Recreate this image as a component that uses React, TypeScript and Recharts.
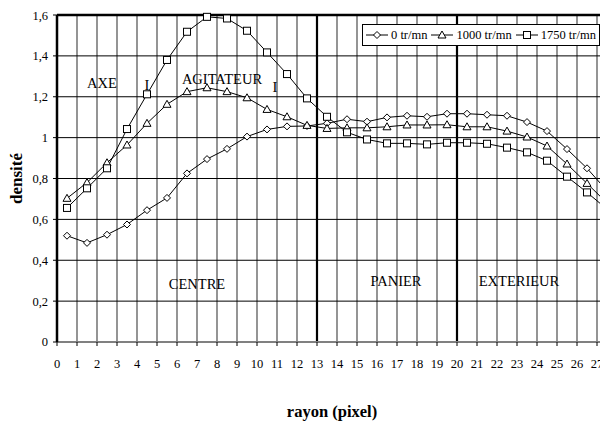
import React from "react";
import {
  LineChart,
  Line,
  XAxis,
  YAxis,
  CartesianGrid,
  ReferenceLine,
  ReferenceDot,
  Legend,
} from "recharts";

const radius = [
  0.5, 1.5, 2.5, 3.5, 4.5, 5.5, 6.5, 7.5, 8.5, 9.5, 10.5, 11.5, 12.5, 13.5,
  14.5, 15.5, 16.5, 17.5, 18.5, 19.5, 20.5, 21.5, 22.5, 23.5, 24.5, 25.5, 26.5, 27.5,
];
const rpm0 = [
  0.52, 0.485, 0.525, 0.575, 0.645, 0.705, 0.825, 0.895, 0.945, 1.005, 1.04, 1.055, 1.057, 1.07,
  1.09, 1.078, 1.099, 1.107, 1.102, 1.117, 1.117, 1.112, 1.107, 1.076, 1.032, 0.944, 0.85, 0.74,
];
const rpm1000 = [
  0.703, 0.78, 0.877, 0.964, 1.07, 1.163, 1.225, 1.244, 1.225, 1.195, 1.138, 1.102, 1.06, 1.045,
  1.048, 1.048, 1.053, 1.062, 1.062, 1.063, 1.053, 1.053, 1.032, 1.003, 0.959, 0.871, 0.776, 0.68,
];
const rpm1750 = [
  0.656, 0.752, 0.85, 1.042, 1.212, 1.38, 1.518, 1.591, 1.583, 1.523, 1.417, 1.311, 1.192, 1.102,
  1.026, 0.991, 0.972, 0.972, 0.967, 0.975, 0.975, 0.97, 0.951, 0.928, 0.887, 0.809, 0.732, 0.65,
];
const seriesNames = ["0 tr/mn", "1000 tr/mn", "1750 tr/mn"];
const xTicks = Array.from({ length: 29 }, (_, i) => i);
const yTicks = [0, 0.2, 0.4, 0.6, 0.8, 1, 1.2, 1.4, 1.6];
const zoneBounds = [13, 20];

const zoneLabels = [
  { text: "AXE", x: 2.25, y: 1.267 },
  { text: "I", x: 4.5, y: 1.26 },
  { text: "AGITATEUR", x: 8.25, y: 1.287 },
  { text: "I", x: 10.9, y: 1.25 },
  { text: "CENTRE", x: 7.0, y: 0.284 },
  { text: "PANIER", x: 16.95, y: 0.298 },
  { text: "EXTERIEUR", x: 23.1, y: 0.298 },
];

const rows = radius.map((r, i) => ({
  r,
  s0: rpm0[i],
  s1: rpm1000[i],
  s2: rpm1750[i],
}));

const FONT = "Liberation Serif, Times New Roman, serif";

type Shape = "diamond" | "triangle" | "square";

function marker(shape: Shape, cx: number, cy: number, key?: string) {
  if (shape === "diamond") {
    return (
      <path
        key={key}
        d={`M${cx},${cy - 3.5}L${cx + 3.5},${cy}L${cx},${cy + 3.5}L${cx - 3.5},${cy}Z`}
        fill="#fff"
        stroke="#000"
        strokeWidth={1}
      />
    );
  }
  if (shape === "triangle") {
    return (
      <path
        key={key}
        d={`M${cx},${cy - 4}L${cx + 4},${cy + 3}L${cx - 4},${cy + 3}Z`}
        fill="#fff"
        stroke="#000"
        strokeWidth={1}
      />
    );
  }
  return (
    <rect
      key={key}
      x={cx - 3.5}
      y={cy - 3.5}
      width={7}
      height={7}
      fill="#fff"
      stroke="#000"
      strokeWidth={1}
    />
  );
}

const dotOf = (shape: Shape) => (props: any) => {
  const { cx, cy, index } = props;
  if (cx == null || cy == null) return <g key={`${shape}-${index}`} />;
  return marker(shape, cx, cy, `${shape}-${index}`);
};

const shapes: Shape[] = ["diamond", "triangle", "square"];

function LegendBox() {
  return (
    <div
      style={{
        display: "flex",
        alignItems: "center",
        border: "1px solid #000",
        background: "#fff",
        padding: "1px 3px",
        height: 18,
        fontFamily: FONT,
        fontSize: 12.5,
        color: "#000",
        whiteSpace: "nowrap",
      }}
    >
      {seriesNames.map((name, i) => (
        <span key={name} style={{ display: "flex", alignItems: "center", marginRight: i < 2 ? 4 : 0 }}>
          <svg width={22} height={12} style={{ marginRight: 3 }}>
            <line x1={0} y1={6} x2={22} y2={6} stroke="#000" strokeWidth={1} />
            {marker(shapes[i], 11, 6)}
          </svg>
          {name}
        </span>
      ))}
    </div>
  );
}

const fmtY = (v: number) =>
  Number.isInteger(v) ? String(v) : v.toFixed(1).replace(".", ",");

export default function App() {
  return (
    <div
      style={{
        position: "absolute",
        left: 8,
        top: 8,
        width: 592,
        height: 413,
        overflow: "hidden",
        background: "#fff",
        fontFamily: FONT,
      }}
    >
      <LineChart
        width={619}
        height={413}
        data={rows}
        margin={{ top: 7, right: 10, bottom: 0, left: 0 }}
        style={{ fontFamily: FONT }}
      >
        <CartesianGrid horizontal={false} vertical stroke="#4d4d4d" strokeWidth={1.2} />
        <CartesianGrid horizontal vertical={false} stroke="#000" strokeWidth={1} />
        <XAxis
          type="number"
          dataKey="r"
          domain={[0, 28]}
          ticks={xTicks}
          interval={0}
          height={79}
          tickSize={4}
          tickMargin={13}
          axisLine={{ stroke: "#808080", strokeWidth: 2 }}
          tickLine={{ stroke: "#000" }}
          tick={{ fontSize: 12.5, fill: "#000", style: { fontFamily: FONT } }}
          label={{
            value: "rayon (pixel)",
            position: "insideBottom",
            offset: 4,
            dx: -5,
            fontSize: 16.5,
            fontWeight: "bold",
            fill: "#000",
            style: { fontFamily: FONT },
          }}
        />
        <YAxis
          type="number"
          domain={[0, 1.6]}
          ticks={yTicks}
          width={49}
          tickSize={4}
          tickMargin={5}
          tickFormatter={fmtY}
          axisLine={{ stroke: "#000", strokeWidth: 2.5 }}
          tickLine={{ stroke: "#000" }}
          tick={{ fontSize: 12.5, fill: "#000", style: { fontFamily: FONT } }}
          label={{
            value: "densité",
            angle: -90,
            position: "insideLeft",
            offset: 8,
            fontSize: 17,
            fontWeight: "bold",
            fill: "#000",
            style: { textAnchor: "middle", fontFamily: FONT },
          }}
        />
        <ReferenceLine y={1.6} stroke="#000" strokeWidth={2.5} />
        {zoneBounds.map((b) => (
          <ReferenceLine key={b} x={b} stroke="#000" strokeWidth={2.2} />
        ))}
        {zoneLabels.map((z, i) => (
          <ReferenceDot
            key={i}
            x={z.x}
            y={z.y}
            r={0}
            fill="none"
            stroke="none"
            label={{
              value: z.text,
              position: "center",
              fontSize: 14.5,
              fill: "#000",
              style: { fontFamily: FONT },
            }}
          />
        ))}
        <Legend
          layout="vertical"
          align="center"
          verticalAlign="middle"
          wrapperStyle={{ top: 16, left: 354, width: "auto", height: "auto" }}
          content={() => <LegendBox />}
        />
        <Line
          dataKey="s0"
          name={seriesNames[0]}
          stroke="#000"
          strokeWidth={1}
          dot={dotOf("diamond")}
          activeDot={false}
          isAnimationActive={false}
        />
        <Line
          dataKey="s1"
          name={seriesNames[1]}
          stroke="#000"
          strokeWidth={1}
          dot={dotOf("triangle")}
          activeDot={false}
          isAnimationActive={false}
        />
        <Line
          dataKey="s2"
          name={seriesNames[2]}
          stroke="#000"
          strokeWidth={1}
          dot={dotOf("square")}
          activeDot={false}
          isAnimationActive={false}
        />
      </LineChart>
    </div>
  );
}
